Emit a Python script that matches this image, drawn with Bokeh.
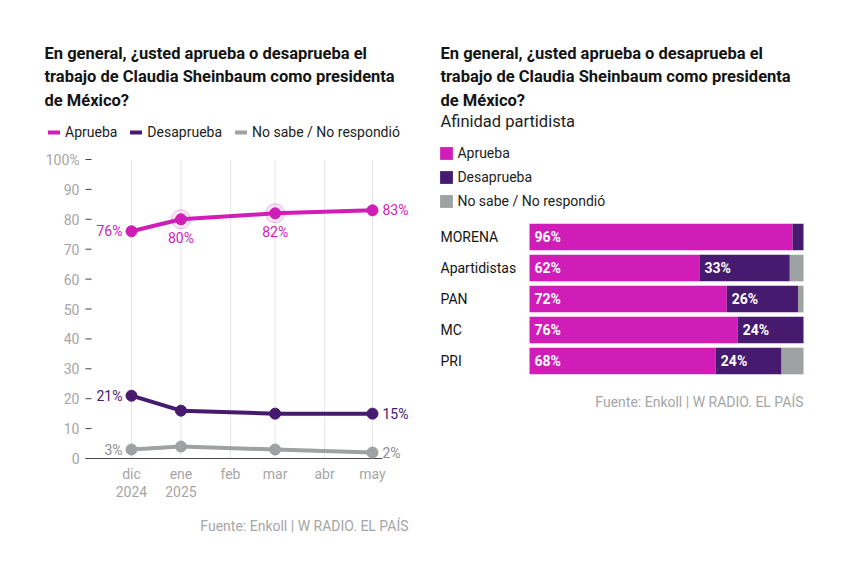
import pandas as pd
from bokeh.plotting import figure
from bokeh.models import (ColumnDataSource, LabelSet, Label, Legend, LegendItem, Range1d)
from bokeh.layouts import row
from bokeh.embed import file_html
from bokeh.resources import INLINE
from bokeh.core.properties import value

# ---------------- data ----------------
fechas = ["2024-12-01", "2025-01-01", "2025-03-01", "2025-05-01"]
aprueba = [76, 80, 82, 83]
desaprueba = [21, 16, 15, 15]
no_sabe = [3, 4, 3, 2]

meses = ["2024-12-01", "2025-01-01", "2025-02-01", "2025-03-01", "2025-04-01", "2025-05-01"]
mes_labels = ["dic", "ene", "feb", "mar", "abr", "may"]
anio_labels = ["2024", "2025", "", "", "", ""]
y_ticks = [0, 10, 20, 30, 40, 50, 60, 70, 80, 90, 100]
y_tick_labels = ["0", "10", "20", "30", "40", "50", "60", "70", "80", "90", "100%"]

partidos = ["MORENA", "Apartidistas", "PAN", "MC", "PRI"]
p_aprueba = [96, 62, 72, 76, 68]
p_desaprueba = [4, 33, 26, 24, 24]
p_nosabe = [0, 5, 2, 0, 8]

series_names = ["Aprueba", "Desaprueba", "No sabe / No respondió"]
titulo = ["En general, ¿usted aprueba o desaprueba el",
          "trabajo de Claudia Sheinbaum como presidenta",
          "de México?"]
subtitulo = "Afinidad partidista"
fuente = "Fuente: Enkoll | W RADIO. EL PAÍS"

# ---------------- style ----------------
C_AP = "#d01db8"
C_DE = "#461a6e"
C_NS = "#9fa2a2"
GRAY_TXT = "#a6a6a6"
DARK = "#141414"
FONT = "Roboto"
TITLE_SIZE = "16.5px"
H = 575

t0 = pd.Timestamp(meses[0])
def days(d):
    return (pd.Timestamp(d) - t0).days

xs = [days(d) for d in fechas]
tick_x = [days(d) for d in meses]

def canvas_label(p, x, y, text, size, color, style="normal", align="left"):
    p.add_layout(Label(x=x, y=H - y, x_units="screen", y_units="screen", text=text,
                       text_font=FONT, text_font_size=size, text_color=color,
                       text_font_style=style, text_align=align, text_baseline="middle"))

def bare_figure(w, xr, yr):
    p = figure(width=w, height=H, output_backend="svg", toolbar_location=None,
               x_range=xr, y_range=yr, x_axis_location=None, y_axis_location=None,
               min_border_left=0, min_border_right=0, min_border_top=0,
               min_border_bottom=0)
    p.frame_align = False
    p.outline_line_color = None
    p.xgrid.grid_line_color = None
    p.ygrid.grid_line_color = None
    return p

# ---------------- left figure (frame = whole canvas) ----------------
W1 = 430
AXIS_X = 91          # canvas x of the value axis
FIRST_X, LAST_X = 131, 372   # canvas x of first / last month
Y0_PX, Y100_PX = 458, 159    # canvas y of 0 and 100
sx = (LAST_X - FIRST_X) / (tick_x[-1] - tick_x[0])     # px per day
sy = (Y0_PX - Y100_PX) / (y_ticks[-1] - y_ticks[0])    # px per point
x_start = tick_x[0] - FIRST_X / sx
x_end = tick_x[-1] + (W1 - LAST_X) / sx
y_start = y_ticks[0] - (H - Y0_PX) / sy
y_end = y_ticks[-1] + Y100_PX / sy

p1 = bare_figure(W1, Range1d(x_start, x_end), Range1d(y_start, y_end))

x_axis = x_start + AXIS_X / sx
x_base_end = x_start + 382 / sx
tick_len = 6 / sx

# vertical grid lines at each month, from 0 to 100
p1.segment(x0=tick_x, y0=[y_ticks[0]] * len(tick_x), x1=tick_x,
           y1=[y_ticks[-1]] * len(tick_x), line_color="#e6e6e6", line_width=1)
# y ticks
p1.segment(x0=[x_axis - tick_len] * len(y_ticks), y0=y_ticks,
           x1=[x_axis] * len(y_ticks), y1=y_ticks, line_color="#444444", line_width=1)
# baseline
p1.segment(x0=[x_axis - tick_len], y0=[y_ticks[0]], x1=[x_base_end], y1=[y_ticks[0]],
           line_color="#4a4a4a", line_width=1)

p1.add_layout(LabelSet(x="x", y="y", text="t",
                       source=ColumnDataSource(dict(x=[x_axis] * len(y_ticks), y=y_ticks,
                                                    t=y_tick_labels)),
                       x_offset=-12, text_align="right", text_baseline="middle",
                       text_color=GRAY_TXT, text_font=value(FONT), text_font_size="14px"))
for labels, off in [(mes_labels, -15), (anio_labels, -33)]:
    p1.add_layout(LabelSet(x="x", y="y", text="t",
                           source=ColumnDataSource(dict(x=tick_x, y=[y_ticks[0]] * len(tick_x),
                                                        t=labels)),
                           y_offset=off, text_align="center", text_baseline="middle",
                           text_color=GRAY_TXT, text_font=value(FONT),
                           text_font_size="14px"))

renderers = []
for vals, col in [(no_sabe, C_NS), (desaprueba, C_DE), (aprueba, C_AP)]:
    src = ColumnDataSource(dict(x=xs, y=vals))
    r = p1.line("x", "y", source=src, line_color=col, line_width=4, line_cap="round",
                line_join="round")
    p1.scatter("x", "y", source=src, size=11, fill_color=col, line_color=col)
    renderers.append(r)
r_ns, r_de, r_ap = renderers

halo_src = ColumnDataSource(dict(x=xs[1:3], y=aprueba[1:3]))
p1.scatter("x", "y", source=halo_src, size=19, fill_color=C_AP, fill_alpha=0.10,
           line_color=C_AP, line_alpha=0.3)

def add_labels(p, xv, yv, col, align, xoff, yoff):
    src = ColumnDataSource(dict(x=xv, y=yv, t=[f"{v}%" for v in yv]))
    p.add_layout(LabelSet(x="x", y="y", text="t", source=src, text_align=align,
                          text_baseline="middle", x_offset=xoff, y_offset=yoff,
                          text_color=col, text_font=value(FONT), text_font_size="14px"))

for vals, col in [(aprueba, C_AP), (desaprueba, C_DE), (no_sabe, "#8c8c8c")]:
    add_labels(p1, [xs[0]], [vals[0]], col, "right", -9, 0)
    add_labels(p1, [xs[-1]], [vals[-1]], col, "left", 10, 0)
add_labels(p1, xs[1:3], aprueba[1:3], C_AP, "center", 0, -19)

leg1 = Legend(items=[LegendItem(label=n, renderers=[r]) for n, r in
                     zip(series_names, [r_ap, r_de, r_ns])],
              orientation="horizontal", location=(48, H - 141.5),
              glyph_width=12, glyph_height=20, label_standoff=5, spacing=13,
              padding=0, margin=0, border_line_color=None, background_fill_alpha=0,
              label_text_font=FONT, label_text_font_size="14px", label_text_color="#222222")
p1.add_layout(leg1)

for i, line in enumerate(titulo):
    canvas_label(p1, 44, 52.5 + i * 23.5, line, TITLE_SIZE, DARK, "bold")
canvas_label(p1, 408, 525, fuente, "14px", GRAY_TXT, align="right")

# ---------------- right figure (frame = whole canvas) ----------------
W2 = 855 - W1
OX = W1
BAR0, BAR100 = 529 - OX, 803 - OX
ROW = 31.0
TOP_CENTER = 236.5
n = len(partidos)
ypos = list(range(n - 1, -1, -1))
px_per_pct = (BAR100 - BAR0) / 100
bx_start = -BAR0 / px_per_pct
bx_end = 100 + (W2 - BAR100) / px_per_pct
by_end = (n - 1) + TOP_CENTER / ROW
by_start = by_end - H / ROW

p2 = bare_figure(W2, Range1d(bx_start, bx_end), Range1d(by_start, by_end))

bsrc = ColumnDataSource(dict(y=ypos, partido=partidos, ap=p_aprueba, de=p_desaprueba,
                             ns=p_nosabe))
bars = p2.hbar_stack(["ap", "de", "ns"], y="y", height=0.86, source=bsrc,
                     color=[C_AP, C_DE, C_NS], line_color=None)

lab_x, lab_y, lab_t = [], [], []
for yy, a, d in zip(ypos, p_aprueba, p_desaprueba):
    for start, v in [(0, a), (a, d)]:
        if v >= 10:
            lab_x.append(start); lab_y.append(yy); lab_t.append(f"{v}%")
p2.add_layout(LabelSet(x="x", y="y", text="t",
                       source=ColumnDataSource(dict(x=lab_x, y=lab_y, t=lab_t)),
                       x_offset=5, text_baseline="middle", text_color="white",
                       text_font=value(FONT), text_font_size="14px",
                       text_font_style="bold"))

p2.add_layout(LabelSet(x="x", y="y", text="t",
                       source=ColumnDataSource(dict(x=[0] * n, y=ypos, t=partidos)),
                       x_offset=(440 - OX) - BAR0, text_baseline="middle", text_align="left",
                       text_color=DARK, text_font=value(FONT), text_font_size="14px"))

leg2 = Legend(items=[LegendItem(label=nm, renderers=[r]) for nm, r in zip(series_names, bars)],
              orientation="vertical", location=(438.4 - OX, H - 210.5),
              glyph_width=16, glyph_height=16, label_height=20, label_standoff=3, spacing=4,
              padding=0, margin=0, border_line_color=None, background_fill_alpha=0,
              label_text_font=FONT, label_text_font_size="14px", label_text_color="#222222")
p2.add_layout(leg2)

for i, line in enumerate(titulo):
    canvas_label(p2, 440 - OX, 52.5 + i * 23.5, line, TITLE_SIZE, DARK, "bold")
canvas_label(p2, 440 - OX, 121, subtitulo, "16.5px", "#222222")
canvas_label(p2, 803 - OX, 401, fuente, "14px", GRAY_TXT, align="right")

layout = row(p1, p2)
open("out.html", "w").write(file_html(layout, INLINE))
